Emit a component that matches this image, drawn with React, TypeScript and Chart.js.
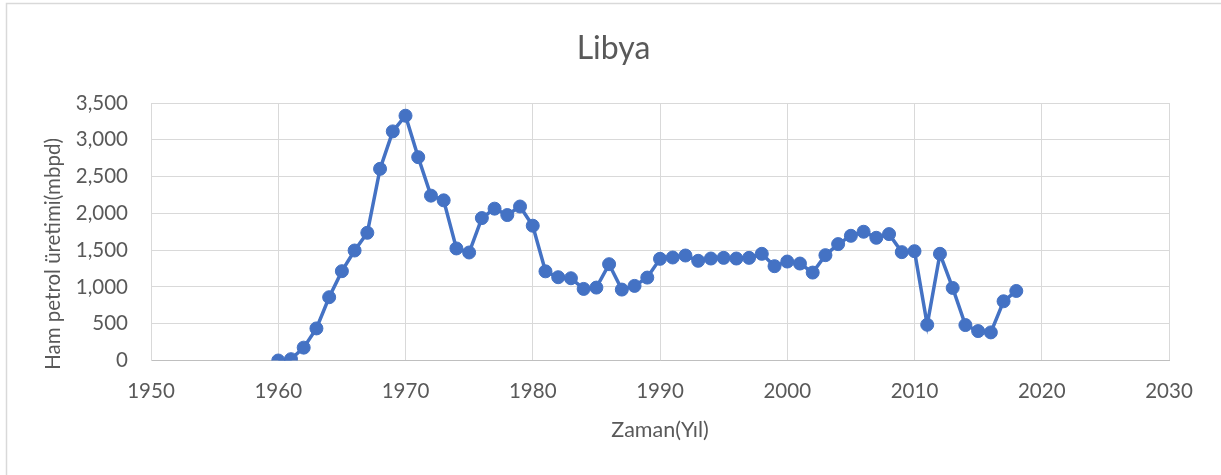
import React, { useEffect, useRef } from "react";
import { Chart, registerables } from "chart.js";

Chart.register(...registerables);

const years: number[] = [
  1960, 1961, 1962, 1963, 1964, 1965, 1966, 1967, 1968, 1969,
  1970, 1971, 1972, 1973, 1974, 1975, 1976, 1977, 1978, 1979,
  1980, 1981, 1982, 1983, 1984, 1985, 1986, 1987, 1988, 1989,
  1990, 1991, 1992, 1993, 1994, 1995, 1996, 1997, 1998, 1999,
  2000, 2001, 2002, 2003, 2004, 2005, 2006, 2007, 2008, 2009,
  2010, 2011, 2012, 2013, 2014, 2015, 2016, 2017, 2018,
];

const production: number[] = [
  0, 18, 175, 436, 860, 1214, 1495, 1736, 2605, 3114,
  3327, 2764, 2241, 2177, 1523, 1468, 1936, 2064, 1977, 2093,
  1832, 1212, 1132, 1118, 973, 991, 1309, 964, 1014, 1127,
  1382, 1400, 1427, 1355, 1386, 1395, 1386, 1395, 1450, 1282,
  1345, 1318, 1195, 1432, 1582, 1695, 1750, 1668, 1718, 1473,
  1486, 486, 1450, 986, 482, 400, 382, 805, 945,
];

const chartTitle = "Libya";
const xTitle = "Zaman(Yıl)";
const yTitle = "Ham petrol üretimi(mbpd)";

const TEXT = "#595959";
const FONT = "Lato, 'Open Sans', sans-serif";

export default function App() {
  const ref = useRef<HTMLCanvasElement | null>(null);

  useEffect(() => {
    if (!ref.current) return;

    const frame = {
      id: "frame",
      beforeDraw(chart: any) {
        const ctx = chart.ctx;
        ctx.save();
        ctx.fillStyle = "#ffffff";
        ctx.fillRect(0, 0, chart.width, chart.height);
        ctx.strokeStyle = "#D9D9D9";
        ctx.lineWidth = 1.5;
        ctx.strokeRect(6.5, 3.5, chart.width + 10, chart.height + 10);
        ctx.restore();
      },
      afterDraw(chart: any) {
        const ctx = chart.ctx;
        ctx.save();
        ctx.translate(53, 254);
        ctx.rotate(-Math.PI / 2);
        ctx.fillStyle = TEXT;
        ctx.font = `20.5px ${FONT}`;
        ctx.textAlign = "center";
        ctx.textBaseline = "middle";
        ctx.fillText(yTitle, 0, 0);
        ctx.restore();
      },
    };

    const chart = new Chart(ref.current, {
      type: "line",
      data: {
        datasets: [
          {
            data: years.map((y, i) => ({ x: y, y: production[i] })),
            borderColor: "#4472C4",
            backgroundColor: "#4472C4",
            borderWidth: 3.5,
            pointRadius: 6.5,
            pointBorderWidth: 1,
            pointBackgroundColor: "#4472C4",
            pointBorderColor: "#4472C4",
            tension: 0,
          },
        ],
      },
      options: {
        responsive: false,
        animation: false,
        layout: { padding: { left: 58, right: 52, top: 0, bottom: 0 } },
        plugins: {
          legend: { display: false },
          tooltip: { enabled: false },
          title: {
            display: true,
            text: chartTitle,
            color: TEXT,
            font: { family: FONT, size: 32, weight: "normal" },
            padding: { top: 29, bottom: 35.6 },
          },
        },
        scales: {
          x: {
            type: "linear",
            min: 1950,
            max: 2030,
            afterFit(scale: any) {
              scale.height = 114.5;
            },
            ticks: {
              stepSize: 10,
              color: TEXT,
              font: { family: FONT, size: 20.5 },
              padding: 19,
              maxRotation: 0,
              callback: (v: any) => String(v),
            },
            grid: { color: "#D9D9D9", lineWidth: 1, drawTicks: false },
            border: { color: "#BFBFBF", width: 1 },
            title: {
              display: true,
              text: xTitle,
              color: TEXT,
              font: { family: FONT, size: 21.5 },
              padding: { top: 0, bottom: 32 },
            },
          },
          y: {
            min: 0,
            max: 3500,
            afterFit(scale: any) {
              scale.width = 93;
            },
            ticks: {
              stepSize: 500,
              color: TEXT,
              font: { family: FONT, size: 20.5 },
              padding: 23,
              callback: (v: any) => Number(v).toLocaleString("en-US"),
            },
            grid: { color: "#D9D9D9", lineWidth: 1, drawTicks: false },
            border: { color: "#D9D9D9", width: 1 },
          },
        },
      },
      plugins: [frame],
    });

    return () => chart.destroy();
  }, []);

  return (
    <div style={{ position: "fixed", left: 0, top: 0, width: 1221, height: 475, background: "#fff" }}>
      <canvas ref={ref} width={1221} height={475} style={{ width: 1221, height: 475 }} />
    </div>
  );
}
